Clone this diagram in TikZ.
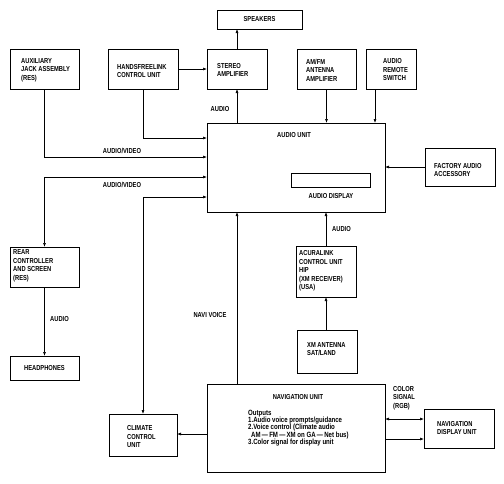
\documentclass[tikz,border=0pt]{standalone}
\usepackage{fontspec}
\setmainfont[FakeStretch=0.8]{Liberation Sans}
\usetikzlibrary{arrows.meta}
\newcommand\capsz{\fontsize{7.2}{8.5}\selectfont\bfseries}
\newcommand\navsz{\fontsize{7.6}{7.2}\selectfont\bfseries}
\begin{document}
\begin{tikzpicture}[x=1pt,y=-1pt,
 box/.style={draw, line width=0.9pt, anchor=north west, inner sep=0pt, outer sep=0pt, font=\capsz},
 txt/.style={anchor=west, inner sep=0pt, align=left, font=\capsz},
 lbl/.style={inner sep=0pt, font=\capsz},
 conn/.style={line width=0.6pt},
 arr/.style={conn, -{Latex[length=4pt,width=3pt]}},
 darr/.style={conn, {Latex[length=4pt,width=3pt]}-{Latex[length=4pt,width=3pt]}}]
\useasboundingbox (0,0) rectangle (504,483);
% boxes
\node[box, minimum width=85pt, minimum height=19pt] (spk) at (217,10) {SPEAKERS};
\node[box, minimum width=69pt, minimum height=40pt] (aux) at (10,49) {};
\node[txt] (auxT) at (21,70) {AUXILIARY\\JACK ASSEMBLY\\(RES)};
\node[box, minimum width=70pt, minimum height=40pt] (hfl) at (108,49) {};
\node[txt] (hflT) at (117,71) {HANDSFREELINK\\CONTROL UNIT};
\node[box, minimum width=60pt, minimum height=40pt] (amp) at (207,49) {};
\node[txt] (ampT) at (217,70) {STEREO\\AMPLIFIER};
\node[box, minimum width=59pt, minimum height=40pt] (amfm) at (297,49) {};
\node[txt] (amfmT) at (306,70) {AM/FM\\ANTENNA\\AMPLIFIER};
\node[box, minimum width=50pt, minimum height=40pt] (rsw) at (366,49) {};
\node[txt] (rswT) at (383,70) {AUDIO\\REMOTE\\SWITCH};
\node[box, minimum width=178pt, minimum height=89pt] (au) at (207,123) {};
\node[lbl] (auT) at (294,135) {AUDIO UNIT};
\node[box, line width=0.8pt, minimum width=79pt, minimum height=14pt] (disp) at (291,173) {};
\node[lbl] (dispT) at (331,196) {AUDIO DISPLAY};
\node[box, minimum width=70pt, minimum height=38pt] (fac) at (425,148) {};
\node[txt] (facT) at (434,170) {FACTORY AUDIO\\ACCESSORY};
\node[box, minimum width=69pt, minimum height=40pt] (rear) at (10,247) {};
\node[txt] (rearT) at (13,266) {REAR\\CONTROLLER\\AND SCREEN\\(RES)};
\node[box, minimum width=69pt, minimum height=24pt] (hp) at (10,356) {HEADPHONES};
\node[box, minimum width=60pt, minimum height=51pt] (acu) at (296,246) {};
\node[txt] (acuT) at (299,271) {ACURALINK\\CONTROL UNIT\\HIP\\(XM RECEIVER)\\(USA)};
\node[box, minimum width=60pt, minimum height=43pt] (xm) at (297,330) {};
\node[txt] (xmT) at (307,349) {XM ANTENNA\\SAT/LAND};
\node[box, minimum width=178pt, minimum height=88pt] (nav) at (207,384) {};
\node[lbl] (navT) at (298,397) {NAVIGATION UNIT};
\node[txt, font=\navsz] (navO) at (248,428) {Outputs\\1.Audio voice prompts/guidance\\2.Voice control (Climate audio\\\hspace*{3pt}AM\,—\,FM\,—\,XM on GA\,—\,Net bus)\\3.Color signal for display unit};
\node[box, minimum width=68pt, minimum height=42pt] (cc) at (109,414) {};
\node[txt] (ccT) at (127,437) {CLIMATE\\CONTROL\\UNIT};
\node[box, minimum width=70pt, minimum height=39pt] (nd) at (424,409) {};
\node[txt] (ndT) at (437,428) {NAVIGATION\\DISPLAY UNIT};
% connectors
\coordinate (hy) at (0,138);
\coordinate (ay) at (0,157);
\coordinate (ry) at (0,177);
\coordinate (cy) at (0,197);
\coordinate (rx) at (375,0);
\coordinate (ny) at (0,434);
\coordinate (c1) at (0,419);
\coordinate (c2) at (0,439);
\draw[arr] (amp.north) -- (amp.north |- spk.south);
\draw[arr] (amp.south |- au.north) -- (amp.south);
\node[lbl] (l1) at (220,109) {AUDIO};
\draw[arr] (hfl.east) -- (amp.west);
\draw[arr] (hfl.south) |- (au.west |- hy);
\draw[arr] (aux.south) |- (au.west |- ay);
\node[lbl] (l2) at (122,151) {AUDIO/VIDEO};
\draw[darr] (au.west |- ry) -| (rear.north);
\node[lbl] (l3) at (122,185) {AUDIO/VIDEO};
\draw[darr] (au.west |- cy) -| (cc.north);
\draw[arr] (nav.north -| amp.south) -- (au.south -| amp.south);
\node[lbl] (l4) at (210,315) {NAVI VOICE};
\draw[arr] (amfm.south) -- (amfm.south |- au.north);
\draw[arr] (rsw.south -| rx) -- (au.north -| rx);
\draw[arr] (acu.north) -- (acu.north |- au.south);
\node[lbl] (l5) at (341.5,229) {AUDIO};
\draw[arr] (xm.north -| acu.north) -- (acu.south);
\draw[arr] (fac.west) -- (fac.west -| au.east);
\draw[arr] (nav.west |- ny) -- (cc.east |- ny);
\draw[darr] (nav.east |- c1) -- (nd.west |- c1);
\draw[arr] (nav.east |- c2) -- (nd.west |- c2);
\node[lbl, anchor=north west, align=left] (l6) at (393,386) {COLOR\\SIGNAL\\(RGB)};
\draw[arr] (rear.south) -- (hp.north);
\node[lbl] (l7) at (59.5,319) {AUDIO};
\end{tikzpicture}
\end{document}
